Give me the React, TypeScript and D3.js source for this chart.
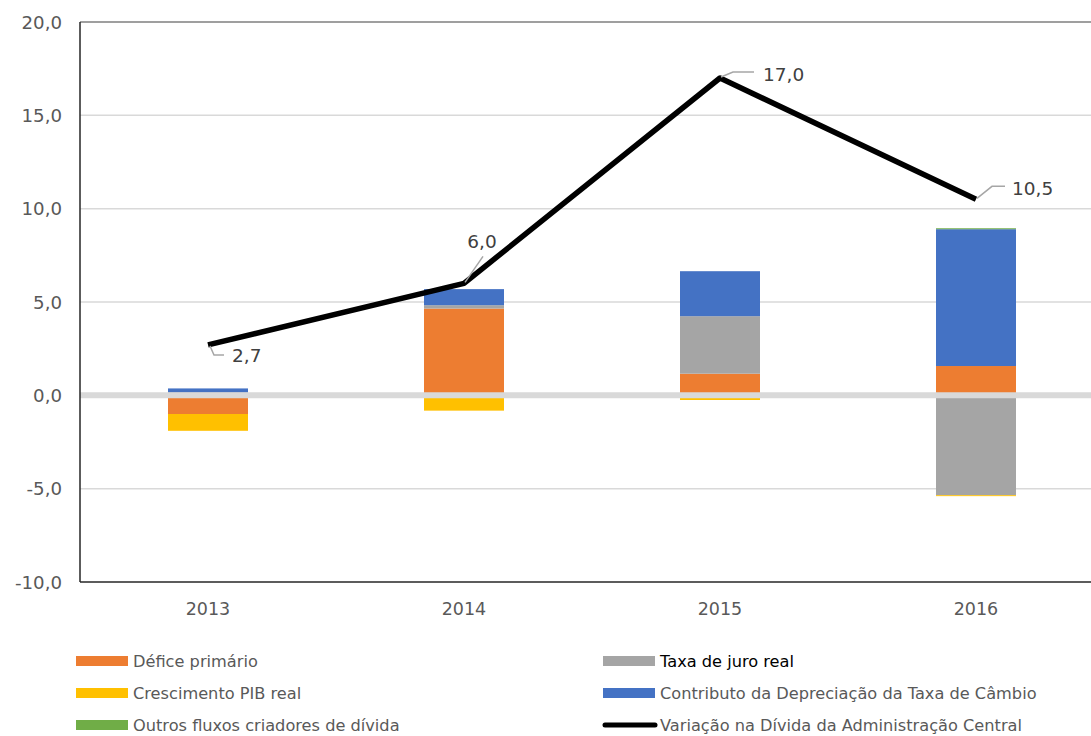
import * as React from "react";
import * as d3 from "d3";

const years = ["2013", "2014", "2015", "2016"];
const deficePrimario = [-1.0, 4.65, 1.16, 1.57];
const taxaJuroReal = [0.15, 0.18, 3.08, -5.35];
const crescimentoPib = [-0.9, -0.82, -0.25, -0.05];
const contributoCambio = [0.22, 0.86, 2.41, 7.33];
const outrosFluxos = [0, 0, 0, 0.05];
const variacaoDivida = [2.7, 6.0, 17.0, 10.5];
const yTicks = [-10, -5, 0, 5, 10, 15, 20];

const seriesKeys = ["defice", "juro", "pib", "cambio", "outros"];
const seriesColors: Record<string, string> = {
  defice: "#ed7d31",
  juro: "#a5a5a5",
  pib: "#ffc000",
  cambio: "#4472c4",
  outros: "#70ad47",
};

// leader line + label offsets relative to the point
const labelPlacement = [
  { path: [[2, 1], [6, 10], [16, 10]], dx: 24, dy: 10, anchor: "start" },
  { path: [[1, -1], [19, -27]], dx: 18, dy: -42, anchor: "middle" },
  { path: [[1, -1], [13, -6], [34, -6]], dx: 43, dy: -4, anchor: "start" },
  { path: [[1, -1], [16, -13], [29, -13]], dx: 36, dy: -11, anchor: "start" },
];

const fmt = (v: number) => v.toFixed(1).replace(".", ",");

const App = () => {
  const width = 1091;
  const height = 736;
  const left = 80;
  const right = 1104;
  const top = 22;
  const bottom = 582;
  const font = "'DejaVu Sans', Verdana, sans-serif";

  const table = years.map((year, i) => ({
    year,
    defice: deficePrimario[i],
    juro: taxaJuroReal[i],
    pib: crescimentoPib[i],
    cambio: contributoCambio[i],
    outros: outrosFluxos[i],
  }));

  const x = d3.scaleBand().domain(years).range([left, right]).padding(0);
  const y = d3.scaleLinear().domain([-10, 20]).range([bottom, top]);
  const barWidth = x.bandwidth() * 0.3125;

  const stacked = d3
    .stack<any>()
    .keys(seriesKeys)
    .offset(d3.stackOffsetDiverging)(table);

  const line = d3
    .line<number>()
    .x((d, i) => x(years[i])! + x.bandwidth() / 2)
    .y((d) => y(d));

  const legendItems = [
    { label: "Défice primário", key: "defice", col: 0, row: 0, color: "#595959" },
    { label: "Taxa de juro real", key: "juro", col: 1, row: 0, color: "#000000" },
    { label: "Crescimento PIB real", key: "pib", col: 0, row: 1, color: "#595959" },
    { label: "Contributo da Depreciação da Taxa de Câmbio", key: "cambio", col: 1, row: 1, color: "#595959" },
    { label: "Outros fluxos criadores de dívida", key: "outros", col: 0, row: 2, color: "#595959" },
    { label: "Variação na Dívida da Administração Central", key: "line", col: 1, row: 2, color: "#595959" },
  ];
  const legendX = [76, 603];
  const legendY = [661, 693, 725];

  return (
    <svg
      width={width}
      height={height}
      style={{ position: "absolute", left: 0, top: 0, background: "#fff" }}
      fontFamily={font}
    >
      {/* gridlines */}
      {yTicks
        .filter((t) => t !== 0 && t !== -10 && t !== 20)
        .map((t) => (
          <line key={t} x1={left} x2={right} y1={y(t)} y2={y(t)} stroke="#d9d9d9" strokeWidth={1.5} />
        ))}
      {/* bars */}
      {stacked.map((s) => (
        <g key={s.key} fill={seriesColors[s.key]}>
          {s.map((d, i) => {
            const y0 = y(d[0]);
            const y1 = y(d[1]);
            return (
              <rect
                key={i}
                x={x(years[i])! + (x.bandwidth() - barWidth) / 2}
                width={barWidth}
                y={Math.min(y0, y1)}
                height={Math.abs(y1 - y0)}
              />
            );
          })}
        </g>
      ))}
      {/* zero axis */}
      <line x1={left} x2={right} y1={y(0)} y2={y(0)} stroke="#d9d9d9" strokeWidth={6} />
      {/* frame */}
      <line x1={left} x2={right} y1={top} y2={top} stroke="#7f7f7f" strokeWidth={1.5} />
      <line x1={left} x2={left} y1={top} y2={bottom} stroke="#262626" strokeWidth={1.5} />
      <line x1={left} x2={right} y1={bottom} y2={bottom} stroke="#262626" strokeWidth={1.5} />
      {/* y labels */}
      {yTicks.map((t) => (
        <text key={t} x={62} y={y(t)} dy="0.36em" textAnchor="end" fontSize={18.2} fill="#595959">
          {fmt(t)}
        </text>
      ))}
      {/* x labels */}
      {years.map((yr) => (
        <text
          key={yr}
          x={x(yr)! + x.bandwidth() / 2}
          y={609}
          dy="0.36em"
          textAnchor="middle"
          fontSize={17.5}
          fill="#595959"
        >
          {yr}
        </text>
      ))}
      {/* line */}
      <path d={line(variacaoDivida)!} fill="none" stroke="#000" strokeWidth={5.5} strokeLinejoin="round" />
      {/* data labels */}
      {variacaoDivida.map((v, i) => {
        const px = x(years[i])! + x.bandwidth() / 2;
        const py = y(v);
        const p = labelPlacement[i];
        return (
          <g key={i}>
            <polyline
              points={p.path.map(([a, b]) => `${px + a},${py + b}`).join(" ")}
              fill="none"
              stroke="#a6a6a6"
              strokeWidth={1.5}
            />
            <text
              x={px + p.dx}
              y={py + p.dy}
              dy="0.36em"
              textAnchor={p.anchor as any}
              fontSize={18.5}
              fill="#404040"
            >
              {fmt(v)}
            </text>
          </g>
        );
      })}
      {/* legend */}
      {legendItems.map((it) => {
        const lx = legendX[it.col];
        const ly = legendY[it.row];
        return (
          <g key={it.key}>
            {it.key === "line" ? (
              <line x1={lx + 2} x2={lx + 52} y1={ly} y2={ly} stroke="#000" strokeWidth={5} strokeLinecap="round" />
            ) : (
              <rect x={lx} y={ly - 5} width={52} height={10} fill={seriesColors[it.key]} />
            )}
            <text x={lx + 57} y={ly} dy="0.36em" fontSize={16.2} fill={it.color}>
              {it.label}
            </text>
          </g>
        );
      })}
    </svg>
  );
};

export default App;
